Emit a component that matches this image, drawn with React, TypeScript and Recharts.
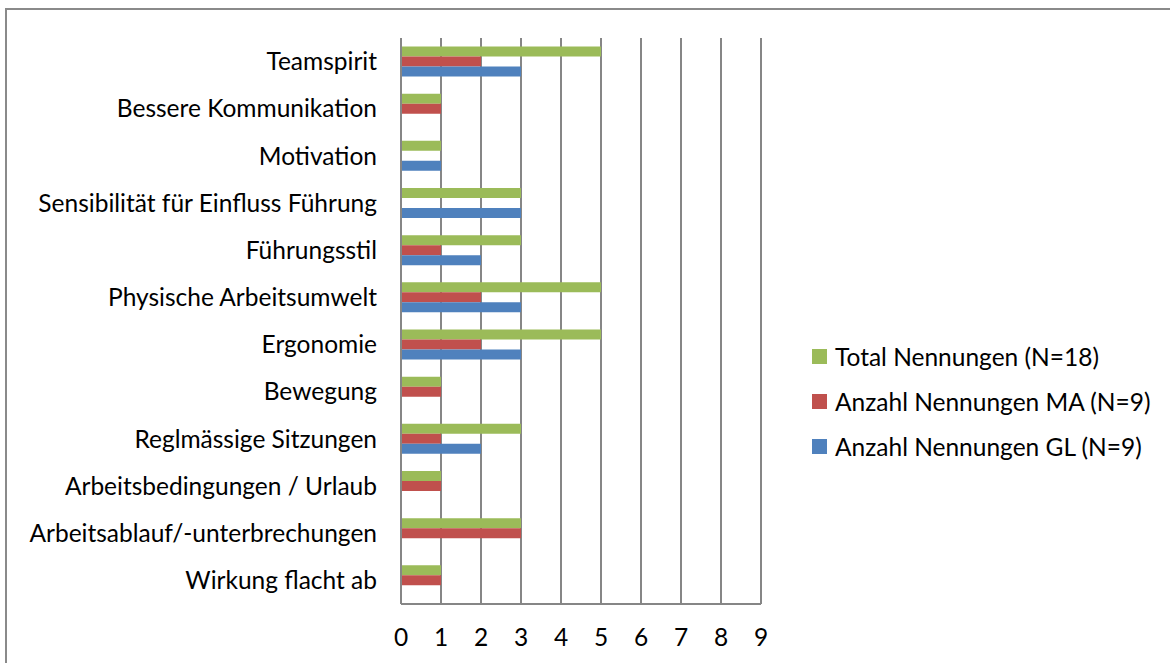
import { BarChart, Bar, XAxis, YAxis, CartesianGrid } from 'recharts'

const categories = [
  'Teamspirit',
  'Bessere Kommunikation',
  'Motivation',
  'Sensibilität für Einfluss Führung',
  'Führungsstil',
  'Physische Arbeitsumwelt',
  'Ergonomie',
  'Bewegung',
  'Reglmässige Sitzungen',
  'Arbeitsbedingungen / Urlaub',
  'Arbeitsablauf/-unterbrechungen',
  'Wirkung flacht ab',
]
const totalNennungen = [5, 1, 1, 3, 3, 5, 5, 1, 3, 1, 3, 1]
const nennungenMA = [2, 1, 0, 0, 1, 2, 2, 1, 1, 1, 3, 1]
const nennungenGL = [3, 0, 1, 3, 2, 3, 3, 0, 2, 0, 0, 0]
const xTicks = [0, 1, 2, 3, 4, 5, 6, 7, 8, 9]

const series = [
  { key: 'total', label: 'Total Nennungen (N=18)', color: '#9BBB59' },
  { key: 'ma', label: 'Anzahl Nennungen MA (N=9)', color: '#C0504D' },
  { key: 'gl', label: 'Anzahl Nennungen GL (N=9)', color: '#4F81BD' },
]

const data = categories.map((name, i) => ({
  name,
  total: totalNennungen[i],
  ma: nennungenMA[i],
  gl: nennungenGL[i],
}))

const FONT = 'Lato, "Open Sans", sans-serif'
const FONT_SIZE = 24.5

// Legende separat, damit der Plotbereich nicht schrumpft
function LegendBox() {
  return (
    <div
      style={{
        position: 'absolute',
        left: 812,
        top: 334,
        fontFamily: FONT,
        fontSize: FONT_SIZE,
        color: '#000',
        whiteSpace: 'nowrap',
      }}
    >
      {series.map((s) => (
        <div key={s.key} style={{ display: 'flex', alignItems: 'center', height: 45 }}>
          <span style={{ width: 15, height: 15, background: s.color, marginRight: 8 }} />
          <span>{s.label}</span>
        </div>
      ))}
    </div>
  )
}

export default function App() {
  return (
    <div
      style={{
        position: 'absolute',
        left: 0,
        top: 0,
        width: 1170,
        height: 663,
        overflow: 'hidden',
        background: '#fff',
      }}
    >
      <div
        style={{
          position: 'absolute',
          left: 5,
          top: 8,
          width: 1300,
          height: 800,
          border: '2px solid #8a8a8a',
          boxSizing: 'border-box',
        }}
      />
      <div style={{ position: 'absolute', left: 0, top: 0 }}>
        <BarChart
          width={1170}
          height={663}
          data={data}
          layout="vertical"
          margin={{ top: 38, right: 409, bottom: 0, left: 0 }}
          barCategoryGap="18%"
          barGap={0}
        >
          <CartesianGrid horizontal={false} stroke="#868686" strokeWidth={2} />
          <XAxis
            type="number"
            domain={[0, 9]}
            ticks={xTicks}
            interval={0}
            height={59}
            tickLine={false}
            tickSize={0}
            tickMargin={25}
            axisLine={{ stroke: '#868686', strokeWidth: 2 }}
            tick={{ fill: '#000', fontSize: FONT_SIZE, fontFamily: FONT }}
          />
          <YAxis
            type="category"
            dataKey="name"
            width={401}
            interval={0}
            tickLine={false}
            tickSize={0}
            tickMargin={24}
            axisLine={{ stroke: '#868686', strokeWidth: 2 }}
            tick={{ fill: '#000', fontSize: FONT_SIZE, fontFamily: FONT }}
          />
          {series.map((s) => (
            <Bar
              key={s.key}
              dataKey={s.key}
              name={s.label}
              fill={s.color}
              isAnimationActive={false}
            />
          ))}
        </BarChart>
      </div>
      <LegendBox />
    </div>
  )
}
